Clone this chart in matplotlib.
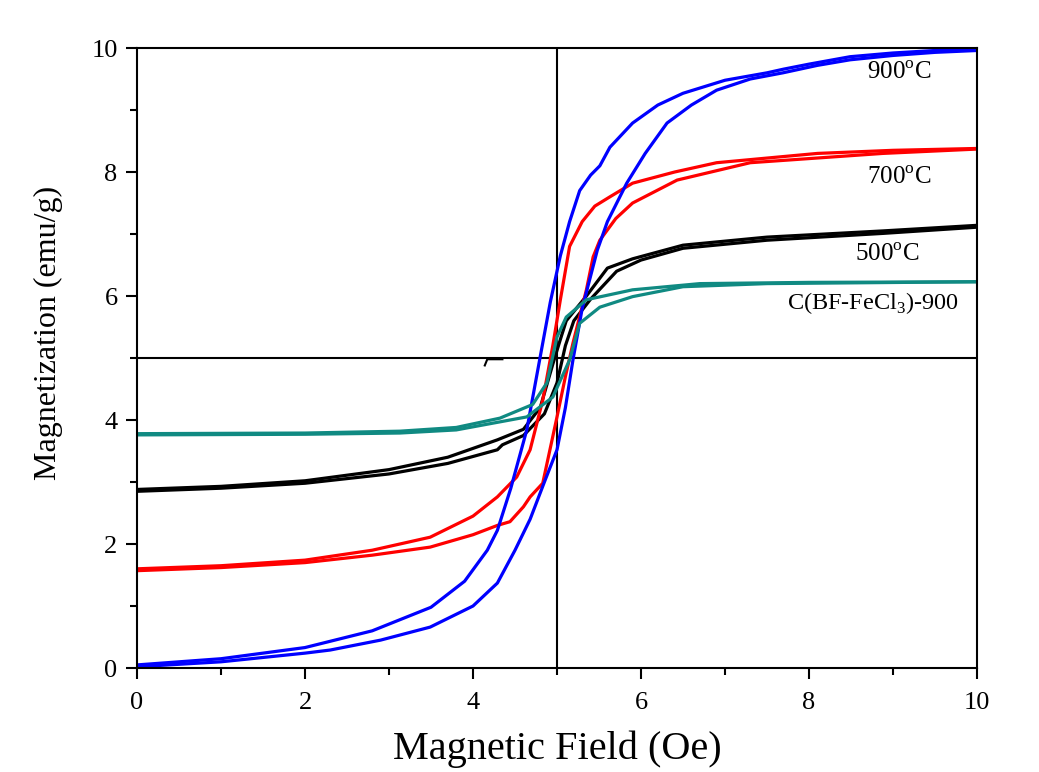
import matplotlib.pyplot as plt
from matplotlib.ticker import MultipleLocator

plt.rcParams['font.family'] = ['Liberation Serif', 'DejaVu Serif']
plt.rcParams['mathtext.fontset'] = 'custom'
plt.rcParams['mathtext.rm'] = 'Liberation Serif'

# Hysteresis loops: each sample has a descending (left) and ascending (right) branch
h_900_dn = [0, 1, 2, 2.8, 3.5, 3.9, 4.17, 4.29, 4.45, 4.64, 4.8, 4.92, 5.04, 5.15, 5.27, 5.4,
            5.51, 5.63, 5.9, 6.2, 6.5, 7.0, 7.5, 7.7, 8.0, 8.49, 9.0, 9.5, 10]
m_900_dn = [0.05, 0.15, 0.33, 0.6, 0.98, 1.4, 1.9, 2.22, 2.9, 3.84, 5.02, 5.9, 6.65, 7.2, 7.7, 7.95,
            8.1, 8.4, 8.79, 9.08, 9.27, 9.48, 9.6, 9.66, 9.74, 9.86, 9.92, 9.96, 9.99]
h_900_up = [0, 1, 2, 2.3, 2.9, 3.49, 4.0, 4.29, 4.5, 4.68, 4.85, 5.0, 5.1, 5.19, 5.3, 5.48, 5.6,
            5.83, 6.05, 6.31, 6.6, 6.9, 7.3, 7.69, 8.1, 8.49, 9.0, 9.5, 10]
m_900_up = [0.02, 0.1, 0.24, 0.29, 0.45, 0.66, 1.0, 1.37, 1.9, 2.4, 3.0, 3.52, 4.2, 4.97, 5.8, 6.74, 7.2,
            7.82, 8.3, 8.79, 9.08, 9.32, 9.5, 9.6, 9.72, 9.81, 9.88, 9.93, 9.96]

h_700_dn = [0, 1, 2, 2.8, 3.49, 4.0, 4.29, 4.52, 4.68, 4.83, 4.95, 5.04, 5.15, 5.3, 5.45, 5.63,
            5.9, 6.4, 6.9, 8.1, 9.0, 10]
m_700_dn = [1.6, 1.65, 1.74, 1.9, 2.11, 2.45, 2.76, 3.08, 3.52, 4.32, 5.2, 5.94, 6.8, 7.2, 7.45, 7.6,
            7.82, 8.0, 8.15, 8.3, 8.35, 8.38]
h_700_up = [0, 1, 2, 2.8, 3.49, 4.0, 4.29, 4.44, 4.6, 4.68, 4.83, 5.0, 5.1, 5.19, 5.35, 5.43, 5.51,
            5.7, 5.9, 6.43, 7.3, 8.88, 10]
m_700_up = [1.57, 1.62, 1.7, 1.82, 1.95, 2.15, 2.3, 2.36, 2.6, 2.76, 2.98, 4.05, 4.7, 5.24, 6.1, 6.63, 6.9,
            7.25, 7.5, 7.87, 8.15, 8.3, 8.37]

h_500_dn = [0, 1, 2, 3, 3.7, 4.29, 4.6, 4.8, 4.95, 5.04, 5.11, 5.35, 5.6, 5.9, 6.5, 7.5, 8.88, 10]
m_500_dn = [2.88, 2.93, 3.02, 3.2, 3.4, 3.68, 3.85, 4.2, 4.9, 5.3, 5.6, 6.0, 6.45, 6.6, 6.82, 6.95, 7.05, 7.14]
h_500_up = [0, 1, 2, 3, 3.7, 4.29, 4.35, 4.6, 4.85, 5.0, 5.1, 5.2, 5.4, 5.71, 6.0, 6.5, 7.5, 8.88, 10]
m_500_up = [2.85, 2.9, 2.98, 3.13, 3.3, 3.52, 3.6, 3.75, 4.1, 4.6, 5.2, 5.6, 5.95, 6.4, 6.58, 6.77, 6.9, 7.01, 7.11]

h_bf_dn = [0, 2, 3.13, 3.8, 4.32, 4.71, 4.88, 5.0, 5.11, 5.35, 5.9, 6.7, 8, 10]
m_bf_dn = [3.78, 3.79, 3.82, 3.88, 4.03, 4.25, 4.6, 5.34, 5.66, 5.94, 6.1, 6.2, 6.22, 6.23]
h_bf_up = [0, 2, 3.13, 3.8, 4.32, 4.64, 4.95, 5.15, 5.27, 5.51, 5.9, 6.5, 7.5, 10]
m_bf_up = [3.76, 3.77, 3.79, 3.84, 3.97, 4.05, 4.37, 4.97, 5.56, 5.82, 5.99, 6.15, 6.2, 6.23]

# stray stroke sitting on the horizontal zero line
h_stray = [4.14, 4.17, 4.35]
m_stray = [4.88, 4.98, 4.98]

fig = plt.figure(figsize=(10.39, 7.72), dpi=100)
ax = fig.add_axes([0.1319, 0.1347, 0.8084, 0.8031])

ax.axvline(5, color='black', lw=1.5, zorder=1)
ax.axhline(5, color='black', lw=1.5, zorder=1)
ax.plot(h_stray, m_stray, color='black', lw=1.5)

lw = 2.3
ax.plot(h_500_dn, m_500_dn, color='black', lw=lw)
ax.plot(h_500_up, m_500_up, color='black', lw=lw)
ax.plot(h_700_dn, m_700_dn, color='#ff0000', lw=lw)
ax.plot(h_700_up, m_700_up, color='#ff0000', lw=lw)
ax.plot(h_900_dn, m_900_dn, color='#0000ff', lw=lw)
ax.plot(h_900_up, m_900_up, color='#0000ff', lw=lw)
ax.plot(h_bf_dn, m_bf_dn, color='#108a82', lw=lw)
ax.plot(h_bf_up, m_bf_up, color='#108a82', lw=lw)

ax.text(9.07, 9.6, r'900$^{\mathrm{o}}$C', fontsize=18, ha='center', va='center')
ax.text(9.08, 7.9, r'700$^{\mathrm{o}}$C', fontsize=18, ha='center', va='center')
ax.text(8.93, 6.66, r'500$^{\mathrm{o}}$C', fontsize=18, ha='center', va='center')
ax.text(8.76, 5.88, r'C(BF-FeCl$_3$)-900', fontsize=17.5, ha='center', va='center')

ax.set_xlim(0, 10)
ax.set_ylim(0, 10)
ax.xaxis.set_major_locator(MultipleLocator(2))
ax.xaxis.set_minor_locator(MultipleLocator(1))
ax.yaxis.set_major_locator(MultipleLocator(2))
ax.yaxis.set_minor_locator(MultipleLocator(1))
ax.tick_params(which='both', direction='out', width=1.5, labelsize=19)
ax.tick_params(which='major', length=8)
ax.tick_params(axis='x', which='major', pad=9)
ax.tick_params(axis='y', which='major', pad=6)
ax.tick_params(which='minor', length=5)
for s in ax.spines.values():
    s.set_linewidth(1.5)

ax.set_xlabel('Magnetic Field (Oe)', fontsize=29)
ax.set_ylabel('Magnetization (emu/g)', fontsize=23)
ax.xaxis.set_label_coords(0.5, -0.1)
ax.yaxis.set_label_coords(-0.088, 0.54)

fig.savefig('out.png', dpi=100)
